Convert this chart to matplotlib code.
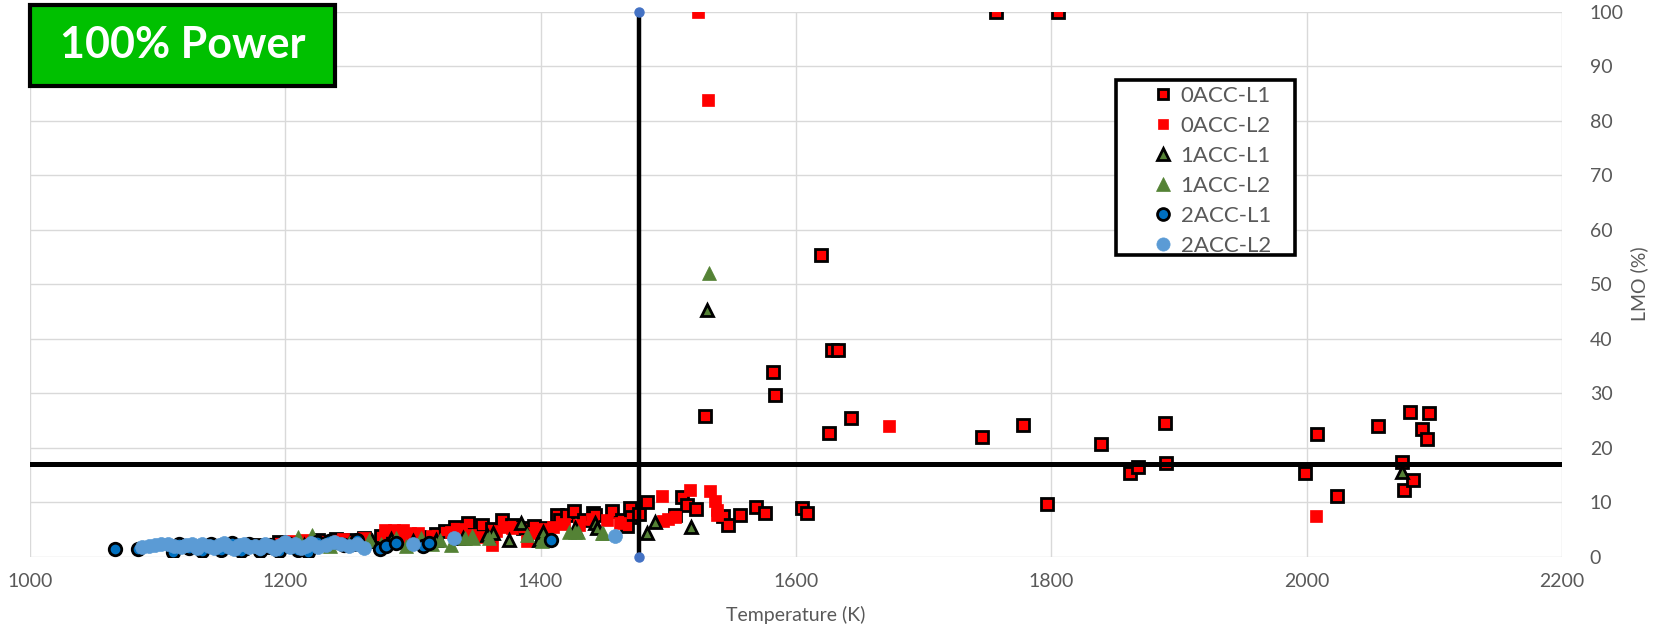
import matplotlib
matplotlib.use('Agg')
import matplotlib.pyplot as plt
from matplotlib.patches import Rectangle

plt.rcParams['font.family'] = ['Lato', 'DejaVu Sans']

# 0ACC-L1 : red squares with black edge
acc0_l1_x = [1165, 1180, 1195, 1210, 1226, 1240, 1250, 1262, 1275, 1285, 1292, 1305, 1318, 1325,
             1333, 1343, 1354, 1362, 1370, 1378, 1386, 1395, 1404, 1413, 1415, 1421, 1426, 1434,
             1441, 1443, 1456, 1464, 1470, 1471, 1468,
             1477, 1483, 1505, 1511, 1515, 1522, 1529, 1543, 1547, 1556, 1569, 1576, 1582, 1584,
             1605, 1609, 1620, 1626, 1628, 1633, 1643, 1746, 1757, 1778, 1797, 1805, 1839, 1862,
             1868, 1889, 1890, 1999, 2008, 2024, 2056, 2075, 2076, 2081, 2083, 2090, 2094, 2096]
acc0_l1_y = [1.8, 2.2, 2.6, 2.4, 3.0, 3.3, 3.1, 3.5, 3.8, 4.0, 3.2, 3.6, 4.2, 4.8,
             5.4, 6.1, 5.8, 5.0, 6.7, 5.9, 5.2, 5.6, 5.2, 7.6, 6.7, 7.6, 8.3, 6.7,
             8.0, 7.7, 8.3, 6.7, 8.9, 7.3, 5.7,
             7.8, 10.0, 7.7, 11.0, 9.5, 8.7, 25.8, 7.4, 5.8, 7.7, 9.1, 8.0, 33.8, 29.7,
             8.9, 8.1, 55.3, 22.7, 38.0, 38.0, 25.4, 22.0, 100, 24.1, 9.6, 100, 20.7, 15.4,
             16.4, 24.6, 17.1, 15.3, 22.5, 11.1, 24.0, 17.3, 12.2, 26.6, 14.1, 23.5, 21.5, 26.3]

# 0ACC-L2 : plain red squares
acc0_l2_x = [1205, 1215, 1228, 1245, 1262, 1278, 1285, 1292, 1298, 1304, 1315, 1330, 1338, 1345,
             1352, 1362, 1365, 1372, 1378, 1389, 1394, 1400, 1410, 1418, 1430, 1440, 1452, 1462,
             1496, 1500, 1505, 1495, 1517, 1523, 1531, 1533, 1537, 1538, 1538, 1673, 2007]
acc0_l2_y = [2.8, 3.0, 2.6, 3.2, 3.4, 4.9, 4.9, 4.9, 4.3, 4.3, 3.8, 4.5, 5.0, 4.0,
             3.6, 2.1, 4.8, 5.5, 5.2, 2.8, 4.3, 5.0, 5.5, 6.0, 5.8, 7.0, 6.8, 6.2,
             6.5, 6.9, 7.3, 11.2, 12.2, 100, 83.8, 12.0, 10.2, 8.6, 7.7, 23.9, 7.4]

# 1ACC-L1 : green triangles with black edge
acc1_l1_x = [1165, 1185, 1200, 1215, 1235, 1250, 1268, 1283, 1300, 1318, 1339, 1358, 1363, 1375,
             1385, 1399, 1402, 1427, 1443, 1444, 1483, 1490, 1518, 1530, 2075]
acc1_l1_y = [1.5, 1.8, 2.0, 2.2, 2.6, 2.4, 2.8, 3.2, 2.9, 3.0, 3.4, 4.0, 4.3, 3.1,
             6.1, 3.1, 4.6, 5.2, 6.1, 5.2, 4.4, 6.3, 5.5, 45.2, 15.6]

# 1ACC-L2 : plain green triangles
acc1_l2_x = [1190, 1210, 1221, 1235, 1250, 1266, 1275, 1287, 1295, 1306, 1315, 1321, 1330, 1341,
             1346, 1347, 1360, 1389, 1401, 1422, 1427, 1429, 1448, 1449, 1532]
acc1_l2_y = [2.2, 3.6, 3.9, 2.0, 2.5, 3.1, 2.3, 3.4, 2.0, 3.4, 2.4, 3.0, 2.2, 3.4,
             3.7, 3.4, 3.5, 4.0, 2.8, 4.6, 4.6, 4.6, 4.3, 4.3, 52.0]

# 2ACC-L1 : dark blue circles with black edge
acc2_l1_x = [1067, 1085, 1112, 1117, 1125, 1135, 1142, 1150, 1158, 1165, 1172, 1180, 1188, 1195,
             1203, 1210, 1218, 1225, 1234, 1246, 1256, 1274, 1279, 1287, 1308, 1313, 1408]
acc2_l1_y = [1.4, 1.4, 0.9, 2.3, 1.5, 1.0, 2.4, 1.2, 2.5, 1.0, 2.3, 1.1, 2.2, 1.0,
             2.4, 1.2, 0.8, 2.6, 2.8, 2.2, 3.0, 1.4, 1.9, 2.5, 1.9, 2.5, 3.1]

# 2ACC-L2 : light blue circles
acc2_l2_x = [1088, 1093, 1098, 1103, 1108, 1113, 1118, 1122, 1127, 1131, 1135, 1140, 1144, 1148,
             1152, 1156, 1160, 1164, 1168, 1172, 1176, 1180, 1184, 1188, 1192, 1196, 1200, 1204,
             1208, 1212, 1216, 1220, 1226, 1232, 1238, 1244, 1250, 1256, 1262, 1300, 1332, 1458]
acc2_l2_y = [1.7, 2.0, 2.2, 2.4, 2.3, 2.0, 1.8, 2.1, 2.3, 1.6, 2.4, 2.0, 1.5, 2.2,
             2.5, 1.8, 1.4, 2.1, 2.4, 1.7, 2.0, 1.5, 2.3, 1.9, 1.4, 2.2, 2.6, 1.8,
             2.3, 1.5, 2.0, 2.5, 1.8, 2.2, 2.7, 2.3, 2.0, 2.4, 1.6, 2.3, 3.5, 3.7]

# limit lines
temp_limit = 1477
lmo_limit = 17

fig = plt.figure(figsize=(16.59, 6.29), dpi=100)
ax = fig.add_axes([0.018, 0.115, 0.9235, 0.8666])

gray = '#595959'
ax.plot(acc0_l1_x, acc0_l1_y, 's', ms=8, mfc='#FF0000', mec='black', mew=2.0, label='0ACC-L1', zorder=3)
ax.plot(acc0_l2_x, acc0_l2_y, 's', ms=8, mfc='#FF0000', mec='#FF0000', mew=0.5, label='0ACC-L2', zorder=3)
ax.plot(acc1_l1_x, acc1_l1_y, '^', ms=9, mfc='#548235', mec='black', mew=2.0, label='1ACC-L1', zorder=3)
ax.plot(acc1_l2_x, acc1_l2_y, '^', ms=10, mfc='#548235', mec='#548235', mew=0.5, label='1ACC-L2', zorder=3)
ax.plot(acc2_l1_x, acc2_l1_y, 'o', ms=9, mfc='#0070C0', mec='black', mew=2.0, label='2ACC-L1', zorder=3)
ax.plot(acc2_l2_x, acc2_l2_y, 'o', ms=10, mfc='#5B9BD5', mec='#5B9BD5', mew=0.5, label='2ACC-L2', zorder=3)

# threshold lines
ax.plot([1000, 2200], [lmo_limit, lmo_limit], color='black', lw=3.6, zorder=4)
ax.plot([temp_limit, temp_limit], [0, 100], color='black', lw=3.2, zorder=4,
        marker='o', ms=6.5, mfc='#4472C4', mec='#4472C4', clip_on=False)

ax.set_xlim(1000, 2200)
ax.set_ylim(0, 100)
ax.set_xticks(range(1000, 2201, 200))
ax.set_yticks(range(0, 101, 10))
ax.yaxis.tick_right()
ax.yaxis.set_label_position('right')
ax.tick_params(length=0, labelsize=14, colors=gray)
ax.tick_params(axis='y', pad=20)
ax.tick_params(axis='x', pad=12)
ax.grid(True, color='#D9D9D9', lw=1)
ax.set_axisbelow(True)
for s in ax.spines.values():
    s.set_visible(False)

ax.set_xlabel('Temperature (K)', fontsize=14, color=gray, labelpad=11)
ax.set_ylabel('LMO (%)', fontsize=14, color=gray, labelpad=5)

# legend: entries without frame, box drawn separately
leg = ax.legend(loc='upper left', bbox_to_anchor=(0.733, 0.864), fontsize=16,
                frameon=False, labelcolor=gray,
                handlelength=0.9, handletextpad=0.35, labelspacing=0.45,
                borderpad=0, borderaxespad=0, markerscale=0.95)
leg.set_zorder(6)
ax.add_patch(Rectangle((0.709, 0.5535), 0.117, 0.321, transform=ax.transAxes,
                       facecolor='white', edgecolor='black', lw=2.6, zorder=5))

# title box
fig.patches.append(Rectangle((0.0181, 0.8633), 0.1838, 0.1288, transform=fig.transFigure,
                             facecolor='#00C000', edgecolor='black', lw=3, zorder=5))
fig.text(0.110, 0.9277, '100% Power', fontsize=31, fontweight='bold', color='white',
         ha='center', va='center', zorder=6)

fig.savefig('out.png', dpi=100)
